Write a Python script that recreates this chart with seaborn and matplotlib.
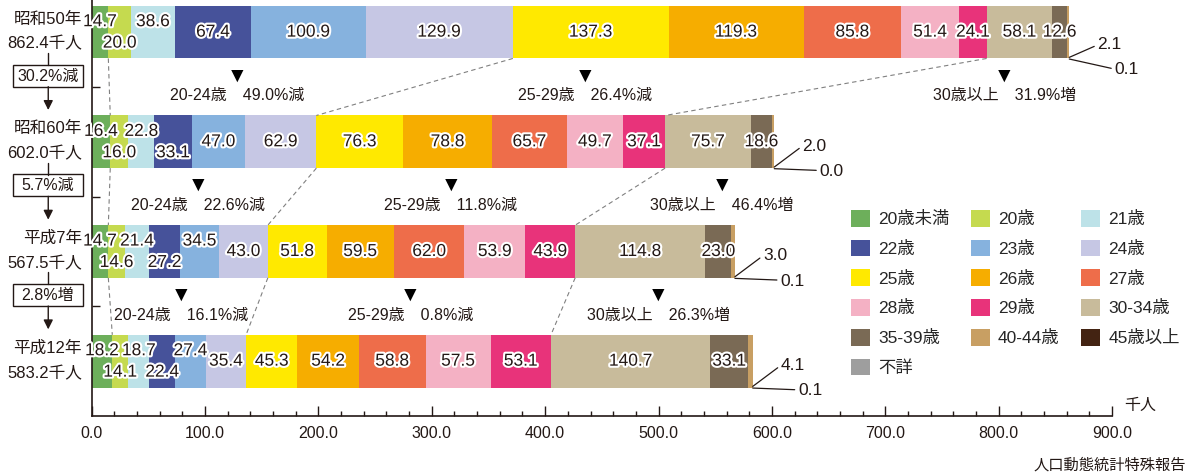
import numpy as np
import pandas as pd
import matplotlib
matplotlib.use("Agg")
import matplotlib.pyplot as plt
import matplotlib.patheffects as pe
from matplotlib.patches import Patch, Rectangle
from matplotlib.ticker import MultipleLocator
import seaborn as sns

# age groups and colours
ages = ['20歳未満', '20歳', '21歳', '22歳', '23歳', '24歳', '25歳', '26歳', '27歳',
        '28歳', '29歳', '30-34歳', '35-39歳', '40-44歳', '45歳以上', '不詳']
colors = ['#6daf5b', '#c5da4f', '#bde2e8', '#46529a', '#86b2de', '#c6c7e4',
          '#ffe900', '#f6ad00', '#ee6d4a', '#f4b1c4', '#e8337a', '#c8bb9b',
          '#7a6a55', '#c89f63', '#432312', '#9e9e9e']

years = ['昭和50年', '昭和60年', '平成7年', '平成12年']
totals = ['862.4', '602.0', '567.5', '583.2']

s50 = [14.7, 20.0, 38.6, 67.4, 100.9, 129.9, 137.3, 119.3, 85.8, 51.4, 24.1, 58.1, 12.6, 2.1, 0.1, 0.0]
s60 = [16.4, 16.0, 22.8, 33.1, 47.0, 62.9, 76.3, 78.8, 65.7, 49.7, 37.1, 75.7, 18.6, 2.0, 0.0, 0.0]
h07 = [14.7, 14.6, 21.4, 27.2, 34.5, 43.0, 51.8, 59.5, 62.0, 53.9, 43.9, 114.8, 23.0, 3.0, 0.1, 0.0]
h12 = [18.2, 14.1, 18.7, 22.4, 27.4, 35.4, 45.3, 54.2, 58.8, 57.5, 53.1, 140.7, 33.1, 4.1, 0.1, 0.0]

total_change = ['30.2%減', '5.7%減', '2.8%増']
chg_2024 = ['49.0%減', '22.6%減', '16.1%減']
chg_2529 = ['26.4%減', '11.8%減', '0.8%減']
chg_30 = ['31.9%増', '46.4%増', '26.3%増']
# x position (thousand persons) of each change note
pos_2024 = [128, 94, 79]
pos_2529 = [435, 317, 281]
pos_30 = [805, 556, 500]

sns.set_style("white")
plt.rcParams['font.family'] = ['Liberation Sans', 'Noto Sans CJK JP', 'DejaVu Sans']
TXT = '#231815'

vals = np.array([s50, s60, h07, h12])
cum = np.cumsum(vals, axis=1)

fig = plt.figure(figsize=(11.92, 4.72), dpi=100)
ax = fig.add_axes([0.0769, 0.1186, 0.8560, 0.8814])

# stacked bars: draw cumulative totals from the widest down
for k in reversed(range(len(ages))):
    df = pd.DataFrame({'year': years, 'cum': cum[:, k]})
    sns.barplot(data=df, x='cum', y='year', color=colors[k], saturation=1,
                width=0.48, orient='h', linewidth=0, errorbar=None, ax=ax)

stroke = [pe.withStroke(linewidth=3, foreground='white')]

for r in range(len(years)):
    row = vals[r]
    # leading narrow segments get staggered labels
    stagger = 0
    for i in range(len(row)):
        if i == 0 or row[i - 1] < 27.3:
            stagger = i + 1
        else:
            break
    for i in range(13):
        x = cum[r, i] - row[i] / 2
        if i < stagger:
            y = r - 0.095 if i % 2 == 0 else r + 0.10
        else:
            y = r
        ax.text(x, y, f'{row[i]:.1f}', ha='center', va='center', fontsize=12.5,
                color=TXT, path_effects=stroke, zorder=5)
    # leader labels for 40-44 and 45+
    end = cum[r, 14]
    up_y = 0.11 if r == 0 else 0.04
    lo_y = 0.34 if r == 0 else 0.27
    ax.plot([end, end + 22], [r + 0.23, r + up_y + 0.02], color=TXT, lw=0.9)
    ax.text(end + 25, r + up_y, f'{row[13]:.1f}', ha='left', va='center', fontsize=12.5, color=TXT)
    ax.plot([end, end + 37], [r + 0.245, r + lo_y - 0.01], color=TXT, lw=0.9)
    ax.text(end + 40, r + lo_y, f'{row[14]:.1f}', ha='left', va='center', fontsize=12.5, color=TXT)

    # year / total labels on the left
    ax.text(-8.5, r - 0.12, years[r], ha='right', va='center', fontsize=12, color=TXT, clip_on=False)
    ax.text(-8.5, r + 0.11, totals[r] + '千人', ha='right', va='center', fontsize=12, color=TXT, clip_on=False)

for r in range(len(years) - 1):
    # dashed connectors between group boundaries
    for k in [0, 5, 10]:
        ax.plot([cum[r, k], cum[r + 1, k]], [r + 0.24, r + 1 - 0.24], color='#808080',
                lw=0.8, ls=(0, (4, 3)), zorder=1)
    # total change box and arrow
    ax.plot([-38.3, -38.3], [r + 0.19, r + 0.30], color=TXT, lw=1, clip_on=False)
    ax.add_patch(Rectangle((-69.6, r + 0.297), 61.6, 0.20, fill=False, ec=TXT, lw=1, clip_on=False))
    ax.text(-38.7, r + 0.40, total_change[r], ha='center', va='center', fontsize=11.5, color=TXT, clip_on=False)
    ax.annotate('', xy=(-38.3, r + 0.71), xytext=(-38.3, r + 0.497),
                arrowprops=dict(arrowstyle='-|>', color=TXT, lw=1, mutation_scale=14,
                                shrinkA=0, shrinkB=0), annotation_clip=False)
    # group change notes
    for xp, lab, chg in [(pos_2024[r], '20-24歳', chg_2024[r]),
                         (pos_2529[r], '25-29歳', chg_2529[r]),
                         (pos_30[r], '30歳以上', chg_30[r])]:
        ax.text(xp, r + 0.40, '▼', ha='center', va='center', fontsize=15, color='black')
        ax.text(xp, r + 0.58, f'{lab}\u3000{chg}', ha='center', va='center', fontsize=11.5, color=TXT)

# axes styling
ax.set_xlim(0, 900)
ax.set_ylim(3.5, -0.293)
ax.set_xlabel('')
ax.set_ylabel('')
ax.set_xticks(range(0, 901, 100))
ax.set_xticklabels([f'{v:.1f}' for v in range(0, 901, 100)], fontsize=11.5, color=TXT)
ax.xaxis.set_minor_locator(MultipleLocator(20))
ax.set_yticks([0.5, 1.5, 2.5])
ax.set_yticklabels([])
ax.tick_params(axis='x', which='major', direction='in', length=7, width=1, pad=7, colors=TXT, bottom=True)
ax.tick_params(axis='x', which='minor', direction='in', length=3.5, width=1, bottom=True, colors=TXT)
ax.tick_params(axis='y', direction='in', length=6, width=1, left=True, colors=TXT)
for s in ['top', 'right']:
    ax.spines[s].set_visible(False)
for s in ['left', 'bottom']:
    ax.spines[s].set_color(TXT)
    ax.spines[s].set_linewidth(1.2)

ax.annotate('千人', xy=(1.012, 0.025), xycoords='axes fraction', ha='left', va='center',
            fontsize=11.5, color=TXT, annotation_clip=False)

# legend, filled row by row
handles = [Patch(facecolor=c, edgecolor='none') for c in colors]
order = list(range(0, 16, 3)) + list(range(1, 16, 3)) + list(range(2, 16, 3))
ax.legend([handles[i] for i in order], [ages[i] for i in order], ncol=3,
          loc='upper left', bbox_to_anchor=(851 / 1192, 1 - 210 / 472),
          bbox_transform=fig.transFigure, frameon=False, fontsize=12.5,
          handlelength=1.1, handleheight=1.1, handletextpad=0.45,
          labelspacing=0.72, columnspacing=1.25, borderpad=0, borderaxespad=0)

fig.text(1186 / 1192, 1 - 465 / 472, '人口動態統計特殊報告', ha='right', va='center',
         fontsize=11, color=TXT)

fig.savefig('out.png', dpi=100)
